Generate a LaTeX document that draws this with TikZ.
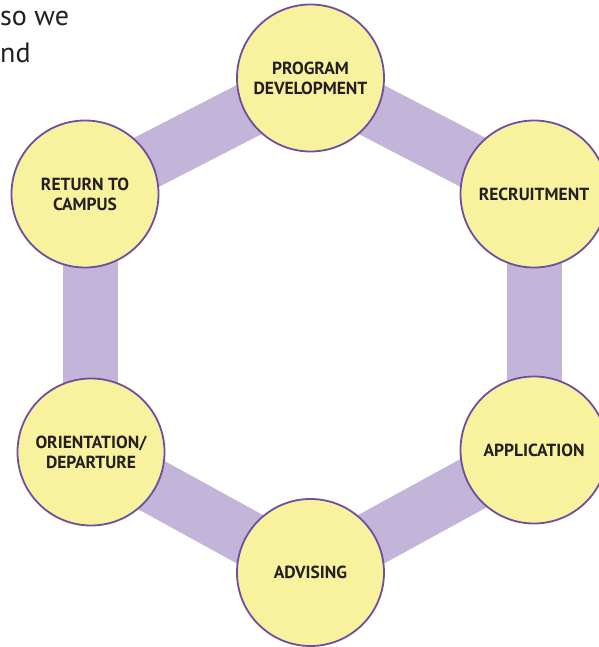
\documentclass[tikz,border=0pt]{standalone}
\usepackage{fontspec}
\setmainfont{PT Sans}
\usetikzlibrary{backgrounds}
\definecolor{cband}{HTML}{C3B5D9}
\definecolor{cfill}{HTML}{F8F19D}
\definecolor{cborder}{HTML}{6D4E9F}
\definecolor{ctext}{HTML}{231F20}
\begin{document}
\begin{tikzpicture}[x=1pt,y=-1pt,
  stage/.style={circle, draw=cborder, line width=1.8pt, fill=cfill,
    minimum size=147pt, inner sep=0pt, align=center, text=ctext,
    font=\bfseries\fontsize{17.5}{20}\selectfont},
  band/.style={line width=55pt, draw=cband},
  frag/.style={anchor=base west, inner sep=0pt, text=ctext,
    font=\fontsize{28}{30}\selectfont}]
\useasboundingbox (0,0) rectangle (598,647);
\node[frag] (t1) at (0,26) {so we};
\node[frag] (t2) at (0,63) {nd};
\node[stage] (pd) at (310.5,78) {PROGRAM\\DEVELOPMENT};
\node[stage] (rc) at (534,194) {\raisebox{-2pt}{RECRUITMENT}};
\node[stage] (ap) at (534,450) {\raisebox{-2pt}{APPLICATION}};
\node[stage] (ad) at (310.5,572.5) {ADVISING};
\node[stage] (od) at (91,452) {ORIENTATION/\\DEPARTURE};
\node[stage] (rt) at (85,194) {RETURN TO\\CAMPUS};
\begin{scope}[on background layer]
\coordinate (rtb) at (90.5,194);
\coordinate (odb) at (90.5,452);
\draw[band] (pd.center) -- (rc.center);
\draw[band] (rc.center) -- (ap.center);
\draw[band] (ap.center) -- (ad.center);
\draw[band] (ad.center) -- (od.center);
\draw[band] (odb) -- (rtb);
\draw[band] (rt.center) -- (pd.center);
\end{scope}
\end{tikzpicture}
\end{document}
